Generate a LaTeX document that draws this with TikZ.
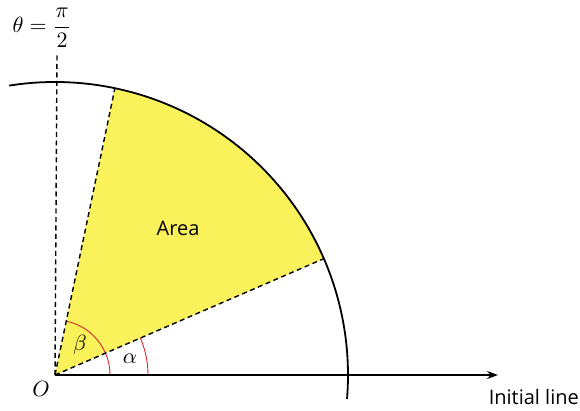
\documentclass[tikz,border=0pt]{standalone}
\usepackage{fontspec}
\newfontfamily\labelfont{Open Sans}
\usetikzlibrary{arrows.meta,calc}
\definecolor{areayellow}{RGB}{250,242,90}
\definecolor{anglered}{RGB}{215,40,50}
\tikzset{
  dashline/.style={line width=1.4pt,dash pattern=on 5pt off 3.5pt},
  anglearc/.style={anglered,line width=0.9pt},
  lbl/.style={font=\labelfont\fontsize{20}{23}\selectfont,inner sep=0pt},
  mlbl/.style={font=\normalsize,inner sep=0pt,scale=2.2,transform shape}
}
\begin{document}
\begin{tikzpicture}[x=1pt,y=1pt]
\useasboundingbox (0,0) rectangle (580,411);
\coordinate (O) at (55,36);
\coordinate (B) at ($(O)+(78.2:293)$);
\coordinate (A) at ($(O)+(23.4:293)$);
\coordinate (Top) at (57,358);
\coordinate (End) at (498,36);
% sector
\fill[areayellow] (O) -- (A) arc[start angle=23.4,end angle=78.2,radius=293] -- cycle;
% angle arcs
\draw[anglearc] ($(O)+(0:93)$) arc[start angle=0,end angle=23.4,radius=93];
\draw[anglearc] ($(O)+(0:55)$) arc[start angle=0,end angle=78.2,radius=55];
% dashed lines
\draw[dashline] (O) -- (Top);
\draw[dashline] (O) -- (B);
\draw[dashline] (O) -- (A);
% circle arc
\draw[line width=1.8pt] ($(O)+(-4.7:293)$) arc[start angle=-4.7,end angle=99,radius=293];
% initial line
\draw[line width=1.4pt,-{Stealth[length=11pt,width=8pt]}] (O) -- (End);
% labels
\node[lbl] (area) at (178,183) {Area};
\node[lbl,anchor=north east] (init) at (579,22) {Initial line};
\node[mlbl] (o) at (41,22) {$O$};
\node[mlbl] (beta) at (80,66) {$\beta$};
\node[mlbl] (alpha) at (130,52) {$\alpha$};
\node[mlbl] (theta) at (42,383) {$\theta=\displaystyle\frac{\pi}{2}$};
\end{tikzpicture}
\end{document}
